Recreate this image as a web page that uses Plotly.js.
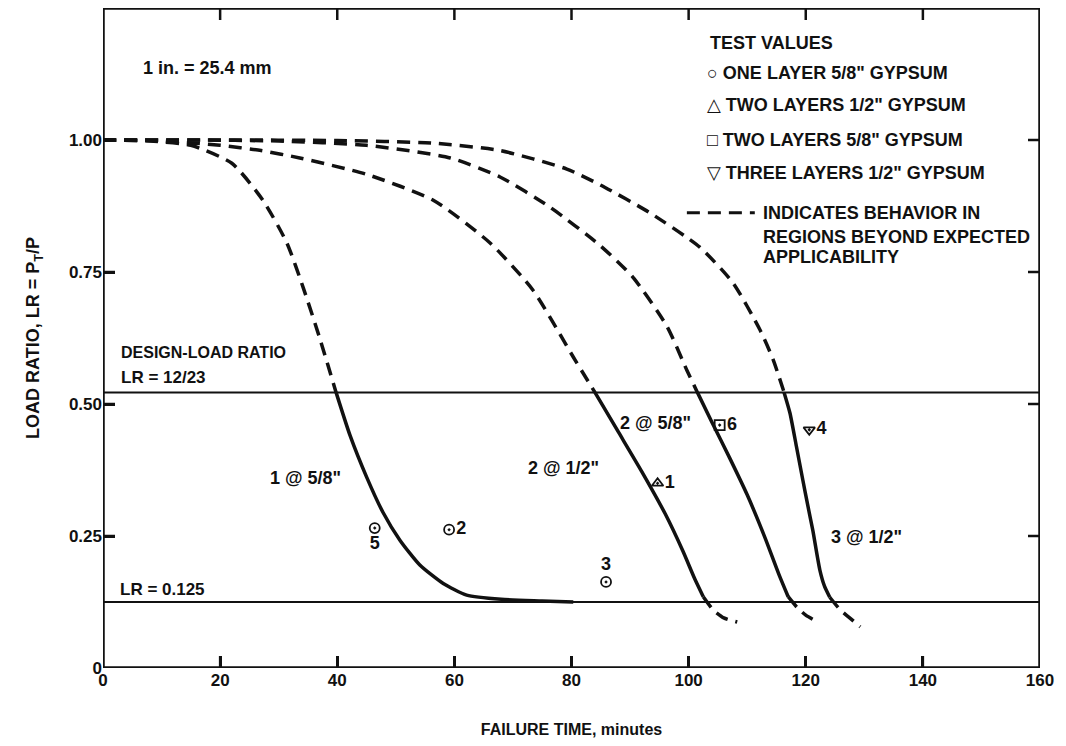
<!DOCTYPE html>
<html>
<head>
<meta charset="utf-8">
<script src="https://cdn.plot.ly/plotly-3.0.1.min.js"></script>
<style>html,body{margin:0;padding:0;background:#fff;}#chart{width:1066px;height:746px;}</style>
</head>
<body>
<div id="chart"></div>
<script>
// ---- Data ----
// Curve 1 @ 5/8"
const c1DashX = [0, 8, 15, 22, 27.3, 31.4, 34.2, 37, 39.8];
const c1DashY = [1.0, 0.998, 0.99, 0.956, 0.886, 0.805, 0.72, 0.625, 0.522];
const c1SolidX = [39.8, 42.2, 45, 47.8, 50.7, 54.1, 58.1, 62.1, 68, 75, 80.3];
const c1SolidY = [0.522, 0.44, 0.362, 0.295, 0.242, 0.195, 0.16, 0.138, 0.13, 0.127, 0.125];

// Curve 2 @ 1/2"
const c2DashX = [0, 10, 20, 27, 33.6, 45, 56.4, 66.1, 73.4, 80.3, 84];
const c2DashY = [1.0, 0.998, 0.99, 0.98, 0.966, 0.935, 0.886, 0.805, 0.716, 0.589, 0.522];
const c2SolidX = [84, 88, 92, 96, 99, 101, 102.5];
const c2SolidY = [0.522, 0.447, 0.372, 0.292, 0.222, 0.17, 0.135];
const c2TailX = [102.5, 104.2, 106, 108.3];
const c2TailY = [0.135, 0.11, 0.095, 0.087];

// Curve 2 @ 5/8"
const c3DashX = [0, 15, 30, 45, 59.3, 67.8, 76.3, 84.9, 90.5, 96.3, 99.7, 101.5];
const c3DashY = [1.0, 1.0, 0.998, 0.99, 0.966, 0.93, 0.873, 0.8, 0.74, 0.647, 0.564, 0.522];
const c3SolidX = [101.5, 104, 107, 110, 113, 115.5, 117];
const c3SolidY = [0.522, 0.465, 0.398, 0.328, 0.248, 0.175, 0.135];
const c3TailX = [117, 118.5, 120, 121.9];
const c3TailY = [0.135, 0.115, 0.1, 0.088];

// Curve 3 @ 1/2"
const c4DashX = [0, 20, 40, 56.4, 67.8, 79.2, 84.9, 93.4, 101.9, 107.6, 112.2, 114.4, 116.3];
const c4DashY = [1.0, 1.0, 0.999, 0.994, 0.98, 0.945, 0.915, 0.862, 0.797, 0.729, 0.64, 0.585, 0.522];
const c4SolidX = [116.3, 117.3, 118.4, 119.5, 120.4, 121.2, 122.4, 123.2, 124.1];
const c4SolidY = [0.522, 0.483, 0.42, 0.356, 0.305, 0.261, 0.186, 0.155, 0.134];
const c4TailX = [124.1, 125.9, 127.5, 129.3];
const c4TailY = [0.134, 0.11, 0.095, 0.078];

// Reference load ratios
const designLR = 12 / 23;
const minLR = 0.125;
const refLineX = [0, 160];

// Test values
const oneLayer58X = [46.4, 59.1, 85.9];
const oneLayer58Y = [0.265, 0.262, 0.163];
const oneLayer58Lbl = ["5", "2", "3"];
const twoLayers12X = [94.7];
const twoLayers12Y = [0.35];
const twoLayers12Lbl = ["1"];
const twoLayers58X = [105.3];
const twoLayers58Y = [0.46];
const twoLayers58Lbl = ["6"];
const threeLayers12X = [120.6];
const threeLayers12Y = [0.451];
const threeLayers12Lbl = ["4"];

// Axis ticks
const xRange = [0, 160];
const yRange = [0, 1.25];
const xTickVals = [0, 20, 40, 60, 80, 100, 120, 140, 160];
const xTickText = ["0", "20", "40", "60", "80", "100", "120", "140", "160"];
const yTickVals = [0, 0.25, 0.5, 0.75, 1.0];
const yTickText = ["0", "0.25", "0.50", "0.75", "1.00"];

// Curve labels
const curveLabels = ['1 @ 5/8"', '2 @ 1/2"', '2 @ 5/8"', '3 @ 1/2"'];
const curveLabelX = [34.5, 78.6, 94.3, 130.3];
const curveLabelY = [0.36, 0.379, 0.464, 0.248];

// Legend text
const legendTitle = "TEST VALUES";
const legendItems = ['○ ONE LAYER 5/8" GYPSUM', '△ TWO LAYERS 1/2" GYPSUM', '□ TWO LAYERS 5/8" GYPSUM', '▽ THREE LAYERS 1/2" GYPSUM'];
const dashNote = ["INDICATES BEHAVIOR IN", "REGIONS BEYOND EXPECTED", "APPLICABILITY"];

// ---- Styling ----
const FONT = "Liberation Sans, Arial, DejaVu Sans, sans-serif";
const NARROW = "Liberation Sans Narrow, Liberation Sans, Arial, sans-serif";
const BLACK = "#111";
const W = 1066, H = 746;
const M = {l: 103, r: 26, t: 8, b: 78};
const TICKLEN = 12;
const dashStyle = {color: BLACK, width: 3.5, dash: "13px,8px", shape: "spline", smoothing: 0.6};
const solidStyle = {color: BLACK, width: 3.5, shape: "spline", smoothing: 0.6};

function line(x, y, style) {
  return {x: x, y: y, type: "scatter", mode: "lines", line: style, hoverinfo: "skip", showlegend: false};
}
function pts(x, y, lbl, symbol, pos) {
  return {x: x, y: y, text: lbl, type: "scatter", mode: "markers+text",
    marker: {symbol: symbol, size: 10, color: BLACK, line: {color: BLACK, width: 1.8}},
    textposition: pos, textfont: {family: FONT, size: 18, color: BLACK, weight: 700},
    showlegend: false};
}

// Frame and inside tick marks on all four sides, built from the axis ranges and tick arrays
const tickDY = TICKLEN / (H - M.t - M.b) * (yRange[1] - yRange[0]);
const tickDX = TICKLEN / (W - M.l - M.r) * (xRange[1] - xRange[0]);
const tickX = [], tickY = [];
xTickVals.slice(1, -1).forEach(v => {
  tickX.push(v, v, null, v, v, null);
  tickY.push(yRange[0], yRange[0] + tickDY, null, yRange[1], yRange[1] - tickDY, null);
});
yTickVals.slice(1).forEach(v => {
  tickX.push(xRange[0], xRange[0] + tickDX, null, xRange[1], xRange[1] - tickDX, null);
  tickY.push(v, v, null, v, v, null);
});
const frameX = [xRange[0], xRange[1], xRange[1], xRange[0], xRange[0]];
const frameY = [yRange[0], yRange[0], yRange[1], yRange[1], yRange[0]];

const traces = [
  line(refLineX, [designLR, designLR], {color: BLACK, width: 2.2}),
  line(refLineX, [minLR, minLR], {color: BLACK, width: 2.2}),
  line(c1DashX, c1DashY, dashStyle), line(c1SolidX, c1SolidY, solidStyle),
  line(c2DashX, c2DashY, dashStyle), line(c2SolidX, c2SolidY, solidStyle), line(c2TailX, c2TailY, dashStyle),
  line(c3DashX, c3DashY, dashStyle), line(c3SolidX, c3SolidY, solidStyle), line(c3TailX, c3TailY, dashStyle),
  line(c4DashX, c4DashY, dashStyle), line(c4SolidX, c4SolidY, solidStyle), line(c4TailX, c4TailY, dashStyle),
  pts(oneLayer58X, oneLayer58Y, oneLayer58Lbl, "circle-open-dot", ["bottom center", "middle right", "top center"]),
  pts(twoLayers12X, twoLayers12Y, twoLayers12Lbl, "triangle-up-open-dot", ["middle right"]),
  pts(twoLayers58X, twoLayers58Y, twoLayers58Lbl, "square-open-dot", ["middle right"]),
  pts(threeLayers12X, threeLayers12Y, threeLayers12Lbl, "triangle-down-open-dot", ["middle right"]),
  Object.assign(line(tickX, tickY, {color: BLACK, width: 2.5}), {connectgaps: false}),
  Object.assign(line(frameX, frameY, {color: BLACK, width: 3.5}), {cliponaxis: false})
];

function txt(text, x, y, size, anchor, family) {
  return {text: text, x: x, y: y, xref: "x", yref: "y", showarrow: false,
    xanchor: anchor || "left", yanchor: "middle",
    font: {family: family || FONT, size: size, color: BLACK, weight: 700}};
}

const annotations = [];
curveLabels.forEach((t, i) => annotations.push(txt(t, curveLabelX[i], curveLabelY[i], 18, "center")));
annotations.push(txt("1 in. = 25.4 mm", 17.8, 1.136, 18, "center"));
annotations.push(txt("DESIGN-LOAD RATIO", 2.8, 0.597, 16, "left", NARROW));
annotations.push(txt("LR = 12/23", 2.8, 0.551, 17, "left", NARROW));
annotations.push(txt("LR = 0.125", 2.6, 0.148, 17, "left", NARROW));
annotations.push(txt(legendTitle, 103.3, 1.184, 18, "left"));
const legendY = [1.127, 1.066, 1.0, 0.9375];
legendItems.forEach((t, i) => annotations.push(txt(t, 102.8, legendY[i], 18, "left")));
const noteY = [0.862, 0.816, 0.778];
dashNote.forEach((t, i) => annotations.push(txt(t, 112.3, noteY[i], 18, "left")));

const layout = {
  width: W, height: H,
  margin: M,
  showlegend: false,
  xaxis: {
    range: xRange, tickmode: "array", tickvals: xTickVals, ticktext: xTickText,
    ticks: "inside", ticklen: TICKLEN, tickwidth: 2.5, tickcolor: BLACK,
    showline: false, showgrid: false, zeroline: false,
    tickfont: {family: FONT, size: 17, color: BLACK, weight: 700},
    title: {text: "FAILURE TIME, minutes", standoff: 34, font: {family: NARROW, size: 16, color: BLACK, weight: 700}}
  },
  yaxis: {
    range: yRange, tickmode: "array", tickvals: yTickVals, ticktext: yTickText,
    ticks: "inside", ticklen: TICKLEN, tickwidth: 2.5, tickcolor: BLACK,
    showline: false, showgrid: false, zeroline: false,
    tickfont: {family: FONT, size: 17, color: BLACK, weight: 700},
    title: {text: "LOAD RATIO, LR = P<sub>T</sub>/P", standoff: 24, font: {family: FONT, size: 18, color: BLACK, weight: 700}}
  },
  shapes: [{type: "line", xref: "x", yref: "y", x0: 99.7, x1: 111.3, y0: 0.862, y1: 0.862,
    line: {color: BLACK, width: 3, dash: "13px,8px"}}],
  annotations: annotations
};

Plotly.newPlot("chart", traces, layout, {displayModeBar: false});
</script>
</body>
</html>
